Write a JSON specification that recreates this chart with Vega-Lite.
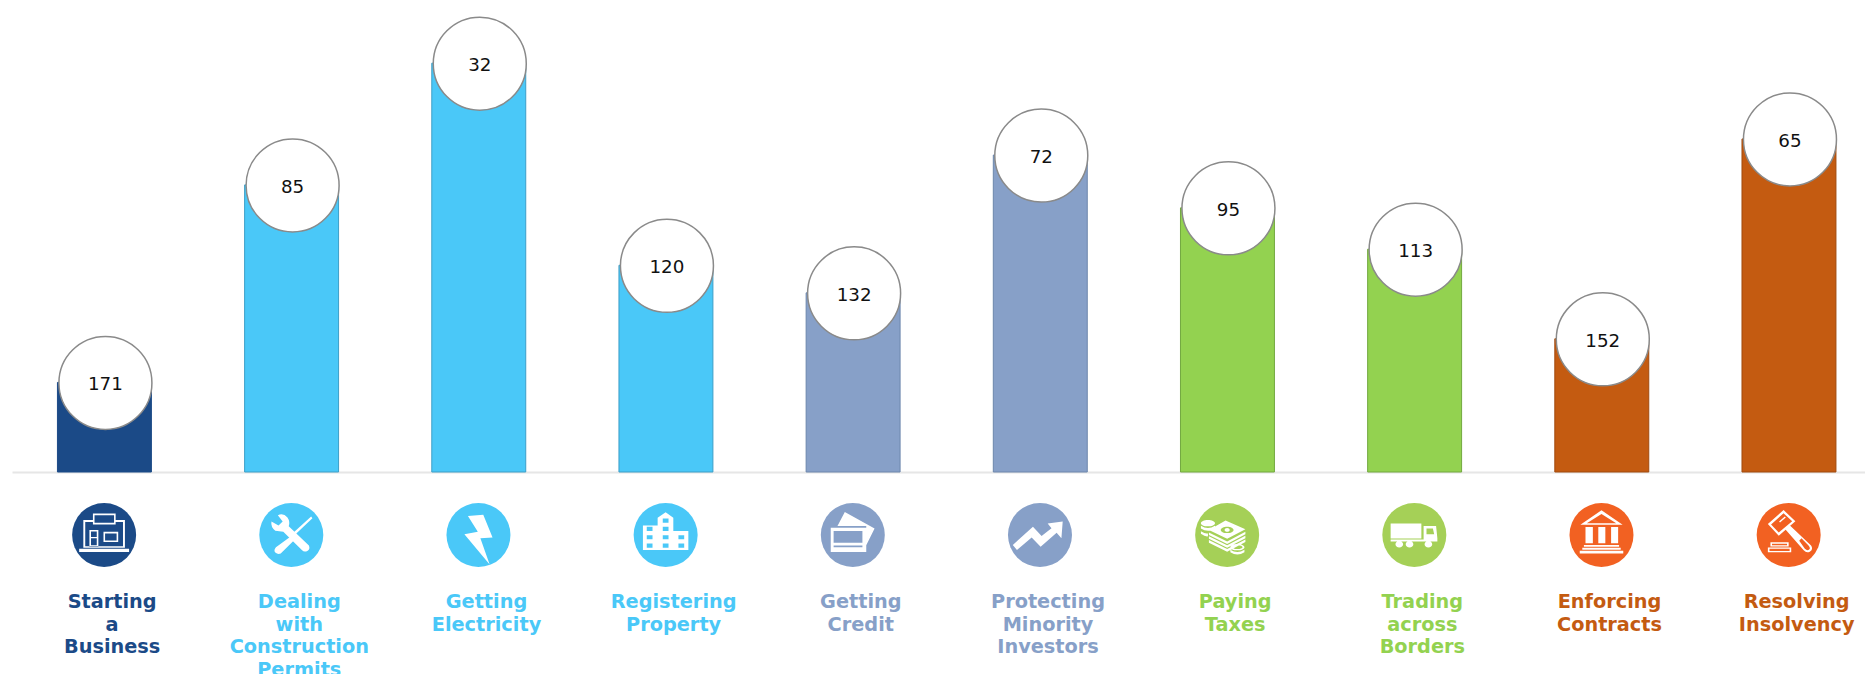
{"$schema":"https://vega.github.io/schema/vega-lite/v6.json","padding":0,"autosize":{"type":"pad"},"spacing":0,"background":"white","config":{"view":{"stroke":null},"concat":{"spacing":0}},"data":{"values":[{"indicator":"Starting a Business","rank":171},{"indicator":"Dealing with Construction Permits","rank":85},{"indicator":"Getting Electricity","rank":32},{"indicator":"Registering Property","rank":120},{"indicator":"Getting Credit","rank":132},{"indicator":"Protecting Minority Investors","rank":72},{"indicator":"Paying Taxes","rank":95},{"indicator":"Trading across Borders","rank":113},{"indicator":"Enforcing Contracts","rank":152},{"indicator":"Resolving Insolvency","rank":65}]},"vconcat":[{"width":1865,"height":472,"encoding":{"x":{"field":"indicator","type":"nominal","sort":null,"scale":{"type":"band","range":[12,1865],"paddingInner":0.498,"paddingOuter":0.199,"align":0.61},"axis":{"title":null,"labels":false,"ticks":false,"domainColor":"#e6e6e6","domainWidth":2}},"y":{"field":"rank","type":"quantitative","scale":{"domain":[210,4.5],"nice":false,"zero":false},"axis":null}},"layer":[{"mark":{"type":"bar","strokeWidth":1},"encoding":{"y2":{"datum":210},"fill":{"field":"indicator","type":"nominal","sort":null,"legend":null,"scale":{"range":["#1B4A87","#4AC8F8","#4AC8F8","#4AC8F8","#87A0C8","#87A0C8","#93D250","#93D250","#C45B11","#C45B11"]}},"stroke":{"field":"indicator","type":"nominal","sort":null,"legend":null,"scale":{"range":["#1B4A87","#3D9FC8","#3D9FC8","#3D9FC8","#6C86AC","#6C86AC","#72A83F","#72A83F","#A04A0E","#A04A0E"]}}}},{"mark":{"type":"point","filled":true,"fill":"white","stroke":"#8a8a8a","strokeWidth":1.5,"opacity":1,"size":8649,"shape":"circle","xOffset":1,"yOffset":0.5}},{"mark":{"type":"text","font":"DejaVu Sans","fontSize":18.3,"color":"#111111","xOffset":1,"yOffset":3},"encoding":{"text":{"field":"rank","type":"quantitative"}}}]},{"width":1865,"height":202,"encoding":{"x":{"field":"indicator","type":"nominal","sort":null,"scale":{"type":"band","range":[12,1865],"paddingInner":0.498,"paddingOuter":0.199,"align":0.606},"axis":null}},"layer":[{"mark":{"type":"point","filled":true,"opacity":1,"size":4096,"shape":"circle"},"encoding":{"y":{"datum":"icon","type":"nominal","scale":{"type":"point","padding":0,"domain":["icon","label"],"range":[62,120]},"axis":null},"fill":{"field":"indicator","type":"nominal","sort":null,"legend":null,"scale":{"range":["#1B4A87","#4AC8F8","#4AC8F8","#4AC8F8","#87A0C8","#87A0C8","#A5D057","#A5D057","#F26122","#F26122"]}}}},{"mark":{"type":"point","filled":true,"fill":"white","opacity":1,"size":4096},"encoding":{"y":{"datum":"icon","type":"nominal","scale":{"type":"point","padding":0,"domain":["icon","label"],"range":[62,120]},"axis":null},"shape":{"field":"indicator","type":"nominal","sort":null,"legend":null,"scale":{"range":[
"M-.35 -.47H-.65V.4H.65V-.47H.36V-.41H.59V.35H-.59V-.41H-.35ZM-.35 -.67H.36V-.33H-.35ZM-.3 -.62V-.38H.31V-.62ZM-.46 -.16H-.18V.37H-.46ZM-.41 -.11V.32H-.23V-.11ZM-.41 .06H-.23V.1H-.41ZM-.02 -.1H.44V.22H-.02ZM.03 -.05V.17H.39V-.05ZM-.78 .43H.78V.53H-.78Z",
"M.62 -.58L.66 -.52L.0 .1L-.05 .03ZM-.02 .05L.08 .17L-.33 .58Q-.42 .62 -.5 .55Q-.56 .47 -.48 .38ZM-.25 -.1L-.08 -.27L.55 .33Q.6 .45 .5 .5Q.4 .55 .33 .47ZM-.25 -.1L-.5 -.13Q-.65 -.25 -.62 -.42L-.4 -.3L-.27 -.42L-.42 -.62Q-.25 -.7 -.12 -.55Q-.03 -.42 -.08 -.27Z",
"M-.33 -.59L.15 -.63L.44 .08L.06 .1L.35 .92L-.44 -.02L-.02 -.1Z",
"M-.71 -.3H-.25V-.54L0 -.71L.24 -.54V-.125H.71V.47H-.71ZM-.09 -.515V-.385H.09V-.515ZM-.59 -.255V-.125H-.41V-.255ZM-.09 -.255V-.125H.09V-.255ZM-.59 .005V.135H-.41V.005ZM-.09 .005V.135H.09V.005ZM.4 .005V.135H.58V.005ZM-.59 .265V.395H-.41V.265ZM-.09 .265V.395H.09V.265ZM.4 .265V.395H.58V.265Z",
"M-.25 -.72L.68 -.2L.42 .32V-.28H-.48ZM-.69 -.23H.42V.53H-.69ZM-.6 -.125V.24H.3V-.125ZM-.6 .33V.38H.3V.33Z",
"M-.72 .47L-.85 .31L-.22 -.26L.05 .03L.36 -.21L.24 -.36L.71 -.42L.67 .1L.52 -.07L.02 .37L-.26 .08Z",
"M-.57 -.16L-.05 -.45L.57 -.18L0 .12ZM-.2 -.16A.2 .1 0 1 0 .2 -.16A.2 .1 0 1 0 -.2 -.16ZM-.08 -.16A.08 .06 0 1 1 .08 -.16A.08 .06 0 1 1 -.08 -.16ZM-.57 -.08L0 .2L.57 -.1V-.02L0 .28L-.57 0ZM-.57 .04L0 .32L.57 .02V.1L0 .4L-.57 .12ZM-.57 .16L0 .44L.57 .14V.22L0 .52L-.57 .24ZM-.82 -.37A.22 .1 0 1 1 -.38 -.37A.22 .1 0 1 1 -.82 -.37ZM-.82 -.29Q-.6 -.15 -.38 -.29V-.2Q-.6 -.06 -.82 -.2ZM-.82 -.12Q-.68 -.03 -.6 -.05V.04Q-.68 .06 -.82 -.04ZM.1 .38A.22 .1 0 1 1 .54 .38A.22 .1 0 1 1 .1 .38ZM.16 .38A.16 .06 0 1 0 .48 .38A.16 .06 0 1 0 .16 .38ZM.1 .46Q.32 .6 .54 .46V.54Q.32 .68 .1 .54Z",
"M-.74 -.36H.22V.11H-.74ZM.29 -.28H.68L.72 .1V.2H.29ZM.38 -.2V-.02H.62L.58 -.2ZM-.74 .14H.72V.2H-.74ZM-.59 .29A.12 .1 0 1 1 -.35 .29A.12 .1 0 1 1 -.59 .29ZM-.27 .29A.12 .1 0 1 1 -.03 .29A.12 .1 0 1 1 -.27 .29ZM.32 .29A.12 .1 0 1 1 .56 .29A.12 .1 0 1 1 .32 .29Z",
"M0 -.77L.66 -.32H-.66ZM0 -.66L-.46 -.37H.46ZM-.5 -.25H-.27V.26H-.5ZM-.1 -.25H.12V.26H-.1ZM.3 -.25H.52V.26H.3ZM-.55 .31H.55V.37H-.55ZM-.6 .4H.6V.46H-.6ZM-.68 .49H.68V.58H-.68Z",
"M-.16 -.78L.21 -.43L-.31 .02L-.65 -.34ZM-.16 -.68L-.55 -.33L-.31 -.08L.11 -.43ZM-.3 -.42L-.12 -.58L-.09 -.55L-.27 -.39ZM-.1 -.17L.04 -.3L.7 .33Q.78 .45 .66 .52Q.56 .58 .47 .48ZM.33 .18L.5 .42Q.58 .5 .63 .46Q.7 .42 .62 .33L.4 .1ZM-.57 .23H0V.36H-.57ZM-.52 .27V.32H-.05V.27ZM-.65 .39H.08V.54H-.65ZM-.6 .43V.5H.03V.43Z"
]}}}},{"mark":{"type":"text","font":"DejaVu Sans","fontWeight":"bold","fontSize":19.3,"lineBreak":" ","lineHeight":22.7,"baseline":"top","xOffset":8},"encoding":{"y":{"datum":"label","type":"nominal","scale":{"type":"point","padding":0,"domain":["icon","label"],"range":[62,120]},"axis":null},"text":{"field":"indicator","type":"nominal"},"color":{"field":"indicator","type":"nominal","sort":null,"legend":null,"scale":{"range":["#1B4A87","#4AC8F8","#4AC8F8","#4AC8F8","#87A0C8","#87A0C8","#93D250","#93D250","#C45B11","#C45B11"]}}}}],"resolve":{"scale":{"color":"independent","fill":"independent"}}}],"resolve":{"scale":{"fill":"independent","stroke":"independent","color":"independent","x":"independent","y":"independent"}}}
